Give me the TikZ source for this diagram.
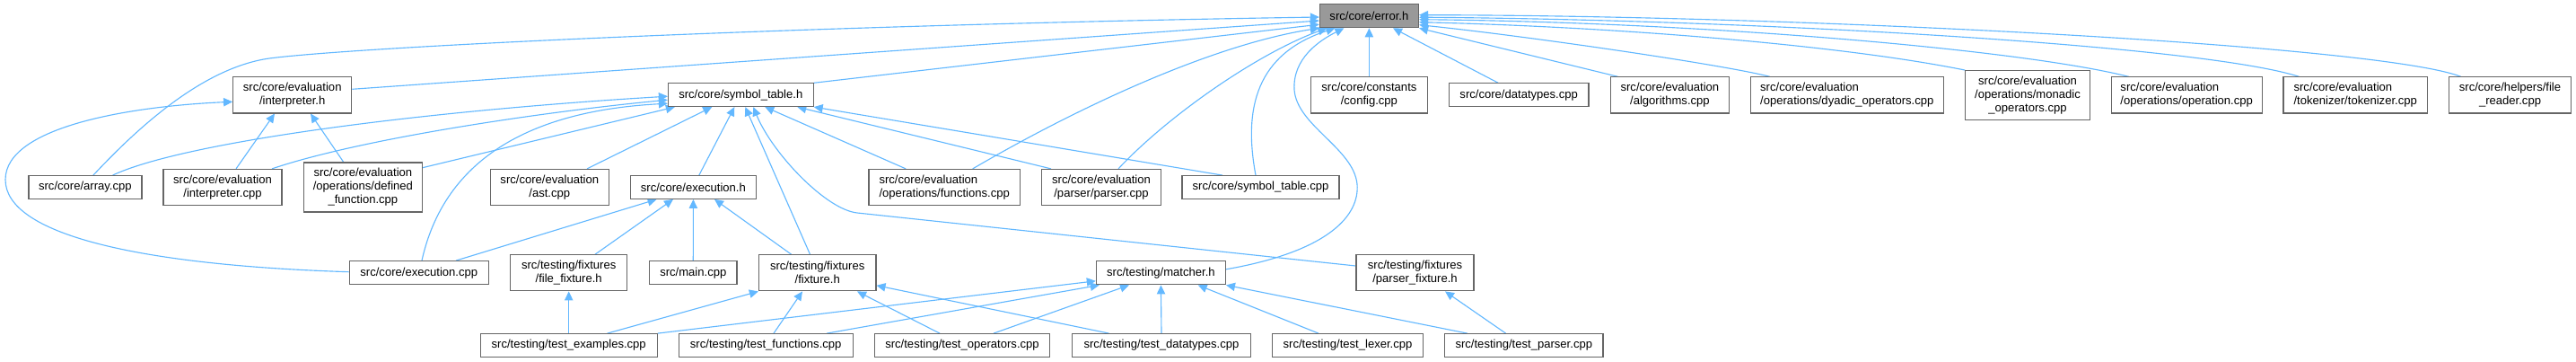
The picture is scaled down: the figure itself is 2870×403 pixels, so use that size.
\documentclass[tikz,border=0pt]{standalone}
\usepackage{fontspec}
\setmainfont{Liberation Sans}
\usetikzlibrary{arrows.meta,calc,backgrounds}
\definecolor{edgec}{HTML}{63B8FF}
\definecolor{bordc}{HTML}{666666}
\definecolor{rootc}{HTML}{999999}
\tikzset{
  box/.style={draw=bordc, line width=0.9pt, fill=white, inner sep=0pt,
    font=\fontsize{9.8}{11.25}\selectfont, align=center},
  lbox/.style={box, align=left},
  sz/.style 2 args={minimum width=#1*0.75pt, minimum height=#2*0.75pt},
  dep/.style={draw=edgec, line width=0.85pt, -{Triangle[length=7.5pt,width=7pt]}},
}
\begin{document}
\begin{tikzpicture}[x=0.75pt, y=-0.75pt]
\useasboundingbox (0,0) rectangle (2870,403);
% row 0
\node[box,sz={110}{26},fill=rootc] (err) at (1525.4,17.7) {src/core/error.h};
% row 1
\node[box,sz={132}{40}] (interph) at (325.7,105.9) {src/core/evaluation\\/interpreter.h};
\node[box,sz={161.6}{25.6}] (symh) at (825.3,105.7) {src/core/symbol\_table.h};
\node[box,sz={130.4}{40}] (config) at (1525.4,105.9) {src/core/constants\\/config.cpp};
\node[box,sz={155.5}{25.6}] (datat) at (1692.2,105.7) {src/core/datatypes.cpp};
\node[box,sz={131.8}{40}] (algo) at (1860.4,105.9) {src/core/evaluation\\/algorithms.cpp};
\node[lbox,sz={215}{40}] (dyadic) at (2057.8,105.9) {src/core/evaluation\\/operations/dyadic\_operators.cpp};
\node[box,sz={138.5}{54.7}] (monadic) at (2259,106) {src/core/evaluation\\/operations/monadic\\\_operators.cpp};
\node[lbox,sz={168}{40}] (operation) at (2436.2,105.9) {src/core/evaluation\\/operations/operation.cpp};
\node[lbox,sz={160.4}{40}] (tokenizer) at (2624.2,105.9) {src/core/evaluation\\/tokenizer/tokenizer.cpp};
\node[box,sz={136.5}{40}] (filereader) at (2796.5,105.9) {src/core/helpers/file\\\_reader.cpp};
% row 2
\node[box,sz={126}{25.6}] (array) at (94.9,208.5) {src/core/array.cpp};
\node[box,sz={132}{40}] (interpcpp) at (248,208.5) {src/core/evaluation\\/interpreter.cpp};
\node[box,sz={131.6}{55}] (deffunc) at (404.4,208.5) {src/core/evaluation\\/operations/defined\\\_function.cpp};
\node[box,sz={132}{40}] (ast) at (612.3,208.5) {src/core/evaluation\\/ast.cpp};
\node[box,sz={140}{25.6}] (exech) at (772.4,208.5) {src/core/execution.h};
\node[lbox,sz={168.4}{40}] (funcs) at (1052.2,208.5) {src/core/evaluation\\/operations/functions.cpp};
\node[box,sz={132.3}{40}] (parsercpp) at (1227,208.5) {src/core/evaluation\\/parser/parser.cpp};
\node[box,sz={175}{25.6}] (symcpp) at (1404.5,208.5) {src/core/symbol\_table.cpp};
% row 3
\node[box,sz={155}{26}] (execcpp) at (466.8,303.7) {src/core/execution.cpp};
\node[box,sz={130}{40}] (filefix) at (633.7,303.8) {src/testing/fixtures\\/file\_fixture.h};
\node[box,sz={97.3}{26}] (maincpp) at (772.3,303.8) {src/main.cpp};
\node[box,sz={130.4}{40}] (fixh) at (910.7,303.8) {src/testing/fixtures\\/fixture.h};
\node[box,sz={144}{26}] (matcher) at (1293.4,303.8) {src/testing/matcher.h};
\node[box,sz={131}{40}] (parserfix) at (1576.5,303.8) {src/testing/fixtures\\/parser\_fixture.h};
% row 4
\node[box,sz={197}{25.6}] (texamples) at (633.7,384.5) {src/testing/test\_examples.cpp};
\node[box,sz={194}{25.6}] (tfunctions) at (853.2,384.5) {src/testing/test\_functions.cpp};
\node[box,sz={194.7}{25.6}] (toperators) at (1072,384.5) {src/testing/test\_operators.cpp};
\node[box,sz={199}{25.6}] (tdatatypes) at (1294,384.5) {src/testing/test\_datatypes.cpp};
\node[box,sz={168.4}{25.6}] (tlexer) at (1501.5,384.5) {src/testing/test\_lexer.cpp};
\node[box,sz={176.3}{25.6}] (tparser) at (1697.8,384.5) {src/testing/test\_parser.cpp};

\begin{scope}[on background layer]
% into error.h
\draw[dep] ($(array.north)+(9,0)$) .. controls (160,135) and (230,75) .. (300,65) .. controls (400,52) and (900,28) .. ($(err.west)+(0,1.3)$);
\draw[dep] ($(interph.east)+(0,-6.6)$) -- ($(err.west)+(0,5.3)$);
\draw[dep] (symh.north east) -- ($(err.west)+(0,9.5)$);
\draw[dep] ($(funcs.north)+(31.5,0)$) .. controls (1200,120) and (1350,50) .. (err.south west);
\draw[dep] ($(parsercpp.north)+(19,0)$) .. controls (1300,130) and (1400,60) .. ($(err.south)+(-47,0)$);
\draw[dep] ($(symcpp.north)+(-5.5,0)$) .. controls (1385,120) and (1400,60) .. ($(err.south)+(-38,0)$);
\draw[dep] ($(matcher.east)+(0,-4)$) .. controls (1480,280) and (1515,240) .. (1512,205) .. controls (1508,165) and (1445,140) .. (1442,100) .. controls (1440,65) and (1470,45) .. ($(err.south)+(-28,0)$);
\draw[dep] (config.north) -- (err.south);
\draw[dep] ($(datat.north)+(-23,0)$) -- ($(err.south)+(26.6,0)$);
\draw[dep] ($(algo.north west)+(8.5,0)$) -- (err.south east);
\draw[dep] ($(dyadic.north west)+(22,0)$) .. controls (1920,72) and (1700,40) .. ($(err.east)+(0,10)$);
\draw[dep] (monadic.north west) .. controls (2050,50) and (1800,30) .. ($(err.east)+(0,7)$);
\draw[dep] ($(operation.north west)+(20,0)$) .. controls (2250,55) and (1900,25) .. ($(err.east)+(0,4)$);
\draw[dep] ($(tokenizer.north west)+(18,0)$) .. controls (2450,50) and (1950,22) .. ($(err.east)+(0,1.5)$);
\draw[dep] ($(filereader.north west)+(14,0)$) .. controls (2650,50) and (2000,17) .. ($(err.east)+(0,-1)$);
% into symbol_table.h
\draw[dep] ($(array.north)+(30.6,0)$) .. controls (200,160) and (450,125) .. ($(symh.west)+(0,1.5)$);
\draw[dep] ($(interpcpp.north)+(55,0)$) .. controls (400,155) and (600,125) .. ($(symh.west)+(0,5.5)$);
\draw[dep] ($(execcpp.north)+(3.2,0)$) .. controls (490,200) and (560,125) .. ($(symh.west)+(0,9.5)$);
\draw[dep] ($(deffunc.east)+(0,-21.8)$) -- ($(symh.south west)+(8,0)$);
\draw[dep] ($(ast.north)+(41.7,0)$) -- ($(symh.south)+(-32,0)$);
\draw[dep] ($(exech.north)+(6.4,0)$) -- ($(symh.south)+(-7,0)$);
\draw[dep] ($(fixh.north)+(-8.2,0)$) -- ($(symh.south)+(5,0)$);
\draw[dep] ($(parserfix.west)+(0,-7.8)$) -- (955,237) .. controls (920,233.3) and (860,170) .. ($(symh.south)+(14,0)$);
\draw[dep] ($(funcs.north)+(-43,0)$) -- ($(symh.south)+(27,0)$);
\draw[dep] ($(parsercpp.north)+(-56,0)$) -- ($(symh.south)+(63,0)$);
\draw[dep] ($(symcpp.north)+(-42.5,0)$) -- (symh.south east);
% into interpreter.h
\draw[dep] ($(execcpp.west)+(0,-1)$) .. controls (150,295) and (6,260) .. (6,200) .. controls (6,140) and (150,118) .. ($(interph.west)+(0,7.4)$);
\draw[dep] ($(interpcpp.north)+(15,0)$) -- ($(interph.south)+(-19.7,0)$);
\draw[dep] ($(deffunc.north)+(-21.7,0)$) -- ($(interph.south)+(20.3,0)$);
% into execution.h
\draw[dep] ($(execcpp.north)+(41.2,0)$) -- ($(exech.south)+(-40.8,0)$);
\draw[dep] ($(filefix.north)+(29.3,0)$) -- ($(exech.south)+(-22.4,0)$);
\draw[dep] (maincpp.north) -- (exech.south);
\draw[dep] ($(fixh.north)+(-29.1,0)$) -- ($(exech.south)+(23.6,0)$);
% into file_fixture.h
\draw[dep] (texamples.north) -- (filefix.south);
% into fixture.h
\draw[dep] ($(texamples.north)+(42.9,0)$) -- (fixh.south west);
\draw[dep] ($(tfunctions.north)+(8.8,0)$) -- ($(fixh.south)+(-16.7,0)$);
\draw[dep] ($(toperators.north)+(-25,0)$) -- ($(fixh.south)+(44.3,0)$);
\draw[dep] ($(tdatatypes.north)+(-58.5,0)$) -- ($(fixh.east)+(0,14)$);
% into matcher.h
\draw[dep] (texamples.north east) -- ($(matcher.west)+(0,9)$);
\draw[dep] ($(tfunctions.north)+(68,0)$) -- ($(matcher.south west)+(4,0)$);
\draw[dep] ($(toperators.north)+(35,0)$) -- ($(matcher.south)+(-35.4,0)$);
\draw[dep] (tdatatypes.north) -- (matcher.south);
\draw[dep] ($(tlexer.north)+(-32.5,0)$) -- ($(matcher.south)+(41.3,0)$);
\draw[dep] ($(tparser.north)+(-63,0)$) -- (matcher.south east);
% into parser_fixture.h
\draw[dep] ($(tparser.north)+(-20.2,0)$) -- ($(parserfix.south)+(33.5,0)$);
\end{scope}
\end{tikzpicture}
\end{document}
